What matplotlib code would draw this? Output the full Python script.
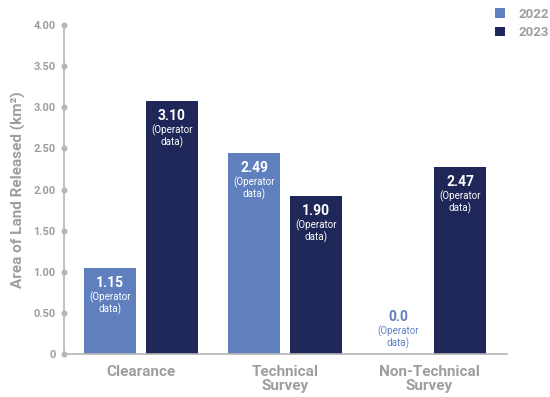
import matplotlib
matplotlib.use("Agg")
import matplotlib.pyplot as plt
import numpy as np

categories = ["Clearance", "Technical\nSurvey", "Non-Technical\nSurvey"]
series_names = ["2022", "2023"]
bar_2022 = [1.05, 2.44, 0.0]
bar_2023 = [3.08, 1.92, 2.27]
labels_2022 = ["1.15", "2.49", "0.0"]
labels_2023 = ["3.10", "1.90", "2.47"]
yticks = [0, 0.5, 1.0, 1.5, 2.0, 2.5, 3.0, 3.5, 4.0]
ytick_labels = ["0", "0.50", "1.00", "1.50", "2.00", "2.50", "3.00", "3.50", "4.00"]
note = "(Operator\ndata)"

c2022 = "#5f7fbf"
c2023 = "#1f2758"
gray = "#9e9e9e"
axis_gray = "#b5b5b5"

plt.rcParams['font.family'] = ['Roboto', 'DejaVu Sans']

fig = plt.figure(figsize=(5.5, 3.97), dpi=100)
ax = fig.add_axes([64/550, (397-354.3)/397, (507-64)/550, (354.3-25)/397])

x = np.arange(len(categories))
w = 0.36
off = 0.215
b1 = ax.bar(x - off, bar_2022, w, color=c2022, label=series_names[0], zorder=2)
b2 = ax.bar(x + off, bar_2023, w, color=c2023, label=series_names[1], zorder=2)

ax.set_xlim(-0.535, 2.54)
ax.set_ylim(0, 4)

for s in ["top", "right"]:
    ax.spines[s].set_visible(False)
for s in ["left", "bottom"]:
    ax.spines[s].set_color(axis_gray)
    ax.spines[s].set_linewidth(1.2)

ax.set_yticks(yticks)
ax.set_yticklabels(ytick_labels)
ax.tick_params(axis="y", length=0, pad=6, labelsize=8, labelcolor=gray)
for t in ax.get_yticklabels():
    t.set_fontweight("bold")
ax.plot([-0.535] * len(yticks), yticks, "o", color=axis_gray, ms=3.3,
        clip_on=False, zorder=3)

ax.set_xticks(x)
ax.set_xticklabels(categories, fontsize=11, fontweight="bold", color=gray,
                   linespacing=0.95)
ax.tick_params(axis="x", length=0, pad=8)

ax.set_ylabel("Area of Land Released (km²)", fontsize=11, fontweight="bold",
              color=gray, labelpad=5)

def annotate(xs, hs, labels):
    for xi, h, lab in zip(xs, hs, labels):
        if h == 0:
            col = c2022
            y0off = 44
        else:
            col = "white"
            y0off = -8
        ax.annotate(lab, xy=(xi, h), xytext=(0, y0off * 0.72),
                    textcoords="offset points", ha="center", va="top",
                    fontsize=10, fontweight="bold", color=col, zorder=4)
        ax.annotate(note, xy=(xi, h), xytext=(0, (y0off - 15.5) * 0.72),
                    textcoords="offset points", ha="center", va="top",
                    fontsize=7, color=col, linespacing=1.05, zorder=4)

annotate(x - off, bar_2022, labels_2022)
annotate(x + off, bar_2023, labels_2023)

leg = fig.legend(handles=[b1, b2], labels=series_names, loc="upper right",
                 bbox_to_anchor=(1.012, 1.0), frameon=False, handlelength=0.75,
                 handleheight=0.75, handletextpad=1.0, labelspacing=0.4,
                 fontsize=9.5, borderaxespad=0.2)
for t in leg.get_texts():
    t.set_color(gray)
    t.set_fontweight("bold")

fig.savefig("out.png", dpi=100)
